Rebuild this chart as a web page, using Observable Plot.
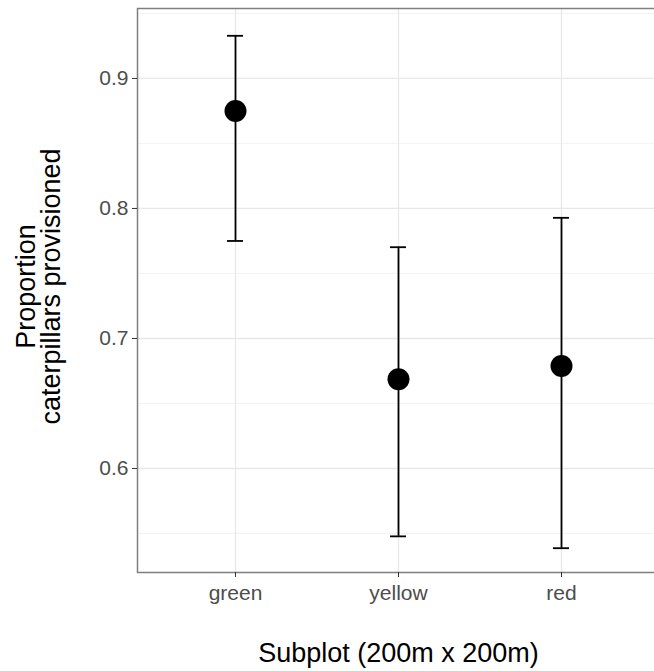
<!DOCTYPE html>
<html>
<head>
<meta charset="utf-8">
<script src="https://cdn.jsdelivr.net/npm/d3@7"></script>
<script src="https://cdn.jsdelivr.net/npm/@observablehq/plot@0.6"></script>
<style>
  html, body { margin: 0; padding: 0; background: #fff; }
  #chart svg { display: block; }
</style>
</head>
<body>
<div id="chart"></div>
<script>
// Data
const categories = ["green", "yellow", "red"];
const means = [0.875, 0.6687, 0.6789];
const lower = [0.775, 0.5478, 0.5387];
const upper = [0.9328, 0.7702, 0.7928];
const yTicks = [0.6, 0.7, 0.8, 0.9];
const yMinor = [0.55, 0.65, 0.75, 0.85, 0.95];
const xTitle = "Subplot (200m x 200m)";
const yTitle = "Proportion\ncaterpillars provisioned";

const data = categories.map((c, i) => ({cat: c, mean: means[i], lo: lower[i], hi: upper[i]}));

const font = "'Liberation Sans', Arial, Helvetica, sans-serif";

const chart = Plot.plot({
  width: 654,
  height: 671,
  marginLeft: 137,
  marginRight: -5,
  marginTop: 8,
  marginBottom: 99,
  style: {fontFamily: font, background: "#fff", overflow: "hidden"},
  x: {type: "band", domain: categories, paddingInner: 0.9, paddingOuter: 0.55, axis: null},
  y: {domain: [0.52, 0.9538], axis: null},
  marks: [
    Plot.ruleY(yMinor, {stroke: "#f0f0f0", strokeWidth: 0.8}),
    Plot.ruleY(yTicks, {stroke: "#e8e8e8", strokeWidth: 1.3}),
    Plot.ruleX(categories, {x: d => d, stroke: "#e8e8e8", strokeWidth: 1.3}),
    Plot.frame({stroke: "#7f7f7f", strokeWidth: 1.5}),
    Plot.axisY({ticks: yTicks, tickFormat: d3.format(".1f"), tickSize: 5, tickPadding: 4, fontSize: 21, stroke: "#333", fill: "#4d4d4d", label: null}),
    Plot.axisX({tickSize: 5, tickPadding: 7.5, fontSize: 21, stroke: "#333", fill: "#4d4d4d", label: null}),
    Plot.ruleX(data, {x: "cat", y1: "lo", y2: "hi", stroke: "#000", strokeWidth: 1.8}),
    Plot.tickY(data, {x: "cat", y: "hi", stroke: "#000", strokeWidth: 1.8}),
    Plot.tickY(data, {x: "cat", y: "lo", stroke: "#000", strokeWidth: 1.8}),
    Plot.dot(data, {x: "cat", y: "mean", r: 11, fill: "#000", stroke: "none"}),
    Plot.text([xTitle], {frameAnchor: "bottom", dy: 81, lineAnchor: "middle", fontSize: 27, fill: "#000"}),
    Plot.text([yTitle], {frameAnchor: "left", dx: -98, dy: -4, rotate: -90, lineAnchor: "middle", textAnchor: "middle", lineHeight: 0.93, fontSize: 27, fill: "#000"})
  ]
});

document.getElementById("chart").appendChild(chart);
</script>
</body>
</html>
